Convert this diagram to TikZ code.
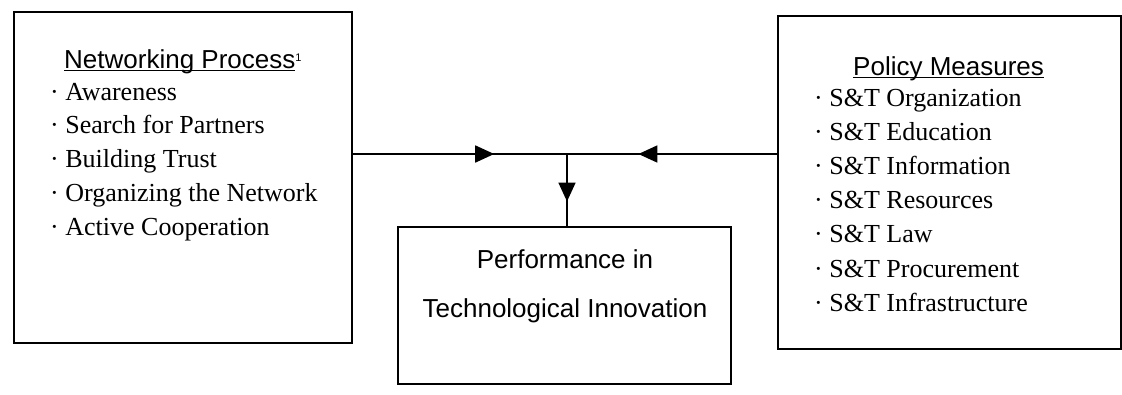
\documentclass[tikz,border=0pt]{standalone}
\usepackage{fontspec}
\setmainfont{Liberation Serif}
\newfontfamily\headfont{Liberation Sans}
\usetikzlibrary{arrows.meta,decorations.markings}
% underline at a fixed depth, so descenders cross it
\newcommand\headline[1]{\setbox0\hbox{#1}\rlap{\rule[-3.2pt]{\wd0}{1.4pt}}\box0}
\begin{document}
\begin{tikzpicture}[x=1pt,y=-1pt,
  panel/.style={draw,line width=1.8pt},
  heading/.style={anchor=base west,inner sep=0pt,font=\headfont\fontsize{26}{30}\selectfont},
  item/.style={anchor=base west,inner sep=0pt,font=\fontsize{26}{30}\selectfont},
  centred/.style={anchor=base,inner sep=0pt,font=\headfont\fontsize{26}{30}\selectfont},
  flow/.style={line width=1.8pt,postaction={decorate},
    decoration={markings,mark=at position 0.66 with {\arrow{Triangle[length=19pt,width=17pt]}}}}]
\useasboundingbox (0,0) rectangle (1122,394);

% the three boxes
\node[panel,minimum width=338pt,minimum height=331pt,inner sep=0pt,anchor=north west] (net) at (13,11) {};
\node[panel,minimum width=343pt,minimum height=333pt,inner sep=0pt,anchor=north west] (pol) at (777,15) {};
\node[panel,minimum width=333pt,minimum height=157pt,inner sep=0pt,anchor=north west] (perf) at (397,226) {};

% networking process
\node[heading] (netT) at (64,68) {\headline{Networking Process}\raisebox{0.45ex}{\fontsize{11}{11}\selectfont 1}};
\foreach \t [count=\i] in {Awareness,Search for Partners,Building Trust,Organizing the Network,Active Cooperation}
  \node[item] (net\i) at (50,{100+33.8*(\i-1)}) {\textperiodcentered\ \t};

% policy measures
\node[heading] (polT) at (853,75) {\headline{Policy Measures}};
\foreach \t [count=\i] in {Organization,Education,Information,Resources,Law,Procurement,Infrastructure}
  \node[item] (pol\i) at (814,{106+34.2*(\i-1)}) {\textperiodcentered\ S\&T \t};

% performance
\node[centred] (perf1) at (565,268) {Performance in};
\node[centred] (perf2) at (565,317) {Technological Innovation};

% connectors
\coordinate (j) at (567,154);
\draw[flow] (net.east |- j) -- (j);
\draw[flow] (pol.west |- j) -- (j);
\draw[flow] (j) -- (j |- perf.north);
\end{tikzpicture}
\end{document}
